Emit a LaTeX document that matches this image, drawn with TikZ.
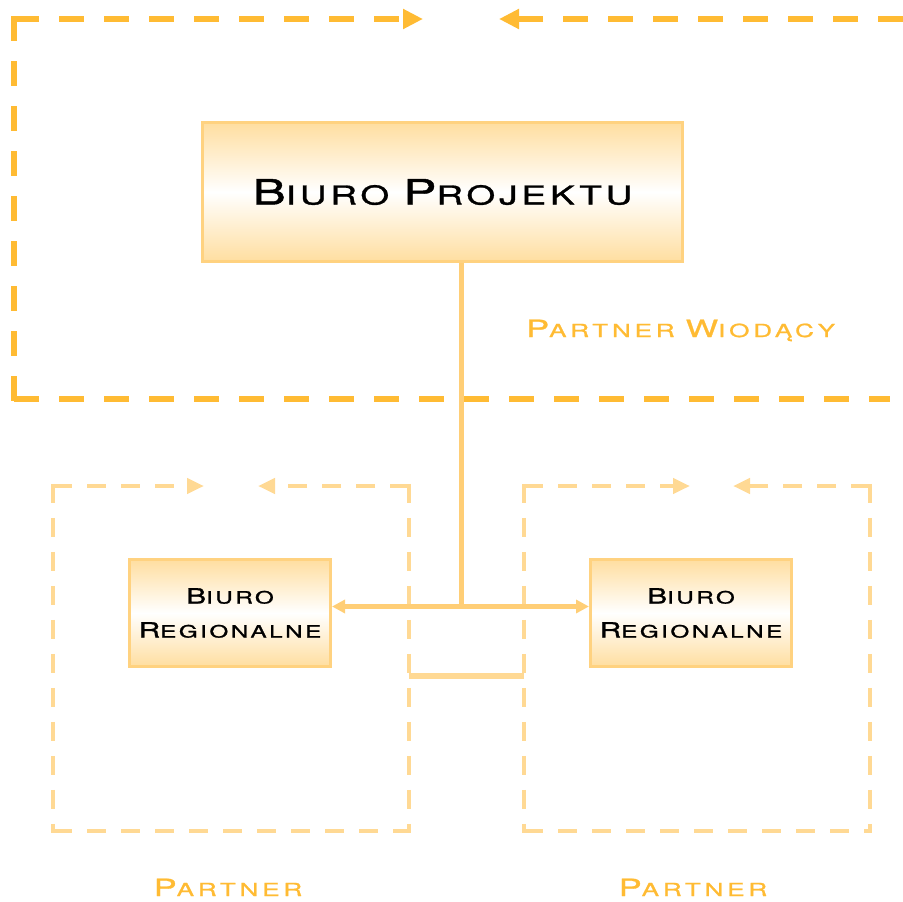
\documentclass[tikz,border=0pt]{standalone}
\usepackage{xcolor}
\usepackage{fontspec}
\usetikzlibrary{arrows.meta}
\newfontfamily\eurofont[FakeStretch=1.42,LetterSpace=15,FakeBold=1.2]{TeX Gyre Heros}
\newfontfamily\eurowide[FakeStretch=1.45,LetterSpace=21,FakeBold=1.2]{TeX Gyre Heros}
\definecolor{leader}{RGB}{255,187,51}
\definecolor{partner}{RGB}{255,217,148}
\definecolor{wire}{RGB}{255,206,118}
\definecolor{boxline}{RGB}{255,210,128}
\definecolor{boxfill}{RGB}{255,222,160}
% big initial + small caps rest
\newcommand{\scw}[4]{{\fontsize{#1}{#1}\selectfont #3}{\fontsize{#2}{#2}\selectfont #4}}
\tikzstyle{office}=[draw=boxline, line width=3pt, top color=boxfill, bottom color=boxfill, middle color=white, inner sep=0pt, font=\eurofont, text=black]
\tikzstyle{connector}=[wire, line width=5pt]
\tikzstyle{partnerlabel}=[text=leader, inner sep=0pt, font=\eurowide\fontsize{18}{22}\selectfont]
\tikzset{leadframe/.style={leader, line width=6pt, dash pattern=on 25pt off 20pt}}
\tikzset{partframe/.style={partner, line width=4.5pt, dash pattern=on 19pt off 15pt}}
\tikzset{leadtip/.style={-{Triangle[length=20pt,width=19pt]}}}
\tikzset{parttip/.style={-{Triangle[length=17pt,width=15pt]}}}

\begin{document}
\begin{tikzpicture}[x=1pt,y=-1pt]
  \useasboundingbox (0,0) rectangle (903,902);

  %% Lead partner frame
  \draw[leadframe,leadtip] (14,19) -- (423,19);
  \draw[leadframe,leadtip] (903,19) -- (499,19);
  \draw[leadframe,shorten <=-3pt,shorten >=-3pt] (14,19) -- (14,399);
  \draw[leadframe] (14,399) -- (890,399);

  %% Partner frames
  \draw[partframe,parttip] (53,486) -- (204,486);
  \draw[partframe,parttip] (409,486) -- (258,486);
  \draw[partframe,shorten <=-2.25pt,shorten >=-2.25pt] (53,486) -- (53,831);
  \draw[partframe,shorten <=-2.25pt,shorten >=-2.25pt] (409,486) -- (409,831);
  \draw[partframe] (53,831) -- (409,831);

  \draw[partframe,parttip] (524,486) -- (690,486);
  \draw[partframe,parttip] (870,486) -- (733,486);
  \draw[partframe,shorten <=-2.25pt,shorten >=-2.25pt] (524,486) -- (524,831);
  \draw[partframe,shorten <=-2.25pt,shorten >=-2.25pt] (870,486) -- (870,831);
  \draw[partframe] (524,831) -- (870,831);

  %% Offices
  \draw (442.5,192) node[office, minimum width=480pt, minimum height=139pt, font=\eurofont\fontsize{26}{30}\selectfont] (proj) {\scw{35}{26}{B}{IURO} \scw{35}{26}{P}{ROJEKTU}};
  \draw (230,613) node[office, minimum width=201pt, minimum height=107pt, align=center, font=\eurofont\fontsize{17}{34}\selectfont] (regL) {\scw{21}{17}{B}{IURO}\\\scw{21}{17}{R}{EGIONALNE}};
  \draw (691,613) node[office, minimum width=201pt, minimum height=107pt, align=center, font=\eurofont\fontsize{17}{34}\selectfont] (regR) {\scw{21}{17}{B}{IURO}\\\scw{21}{17}{R}{EGIONALNE}};

  %% Links
  \coordinate (hub) at (461,606.5);
  \draw[connector] (proj.south -| hub) -- (hub);
  \draw[connector,{Triangle[length=13pt,width=13pt]}-{Triangle[length=13pt,width=13pt]}] (regL.east |- hub) -- (regR.west |- hub);
  \coordinate (lframe) at (409,676);
  \coordinate (rframe) at (524,676);
  \draw[connector,partner,line width=6pt] (lframe) -- (rframe);

  %% Labels
  \draw (526,337) node[partnerlabel, anchor=base west] (lead) {\scw{23.7}{18}{P}{ARTNER} \scw{23.7}{18}{W}{IODĄCY}};
  \draw (228,896) node[partnerlabel, anchor=base] (partL) {\scw{23.7}{18}{P}{ARTNER}};
  \draw (693,896) node[partnerlabel, anchor=base] (partR) {\scw{23.7}{18}{P}{ARTNER}};
\end{tikzpicture}
\end{document}
